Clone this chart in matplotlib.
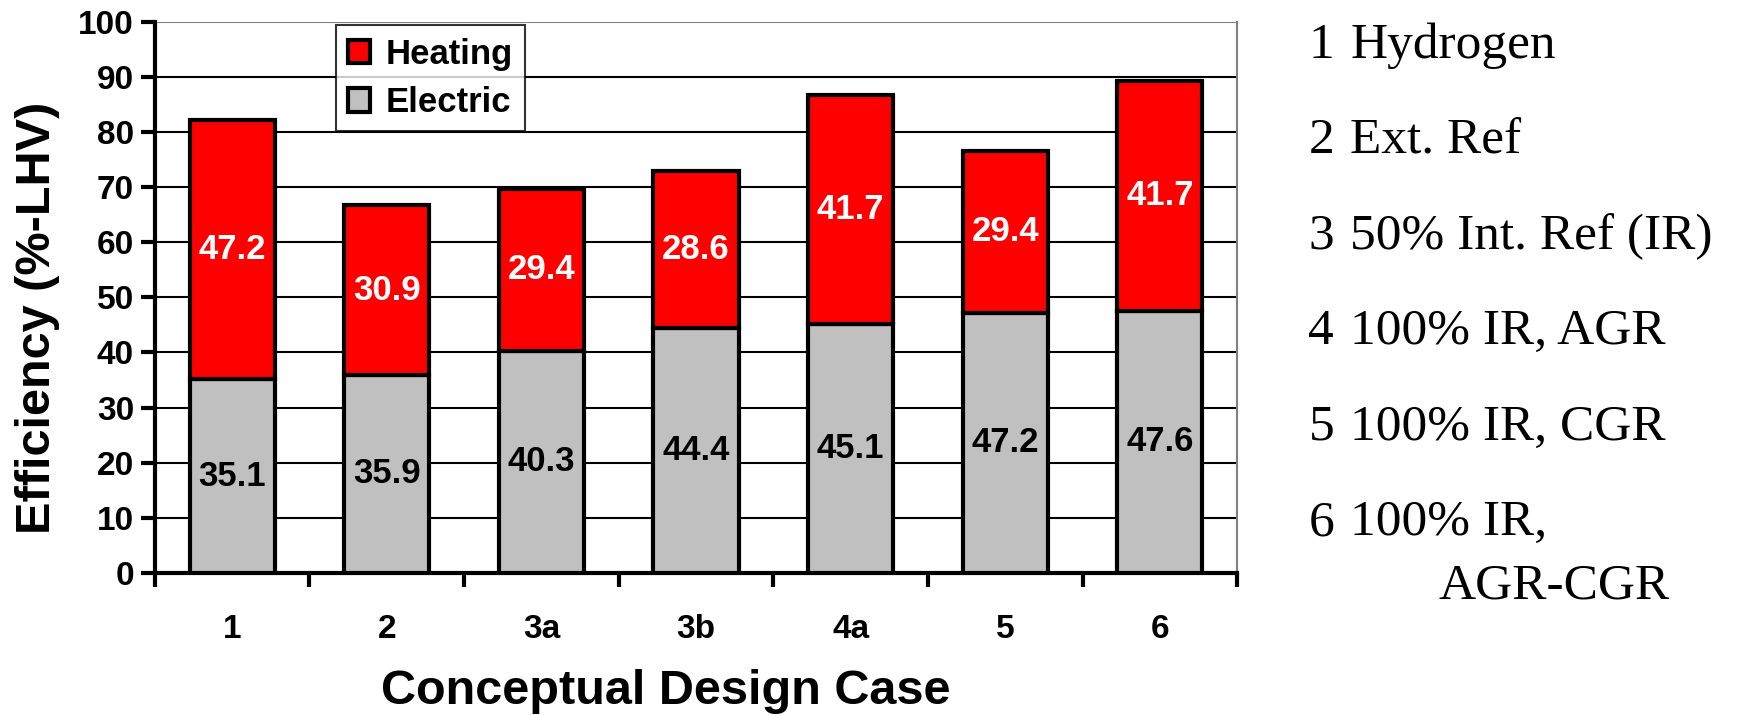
import matplotlib
matplotlib.use("Agg")
from matplotlib import pyplot as plt
import numpy as np

# design cases and stacked efficiencies (%-LHV)
cases = ["1", "2", "3a", "3b", "4a", "5", "6"]
electric = [35.1, 35.9, 40.3, 44.4, 45.1, 47.2, 47.6]
heating = [47.2, 30.9, 29.4, 28.6, 41.7, 29.4, 41.7]
note_nums = ["1", "2", "3", "4", "5", "6"]
note_text = ["Hydrogen", "Ext. Ref", "50% Int. Ref (IR)",
             "100% IR, AGR", "100% IR, CGR", "100% IR,"]
note_extra = "AGR-CGR"

plt.rcParams["font.family"] = ["Liberation Sans", "DejaVu Sans"]
plt.rcParams["font.weight"] = "bold"

fig = plt.figure(figsize=(17.4, 7.15), dpi=100)
ax = fig.add_axes([0.089, 0.199, 0.622, 0.770])

x = np.arange(len(cases))
w = 0.55
b1 = ax.bar(x, electric, w, color="#c0c0c0", edgecolor="black", linewidth=3,
            label="Electric", zorder=3)
b2 = ax.bar(x, heating, w, bottom=electric, color="#ff0000", edgecolor="black",
            linewidth=3, label="Heating", zorder=3)

for i in range(len(cases)):
    ax.text(x[i], electric[i] / 2, f"{electric[i]:.1f}", ha="center", va="center",
            fontsize=25, fontweight="bold", color="black", zorder=4)
    ax.text(x[i], electric[i] + heating[i] / 2, f"{heating[i]:.1f}", ha="center",
            va="center", fontsize=25, fontweight="bold", color="white", zorder=4)

ax.set_xlim(-0.5, len(cases) - 0.5)
ax.set_ylim(0, 100)
ax.set_yticks(np.arange(0, 101, 10))
ax.tick_params(axis="y", labelsize=24, width=3, length=10, direction="out", pad=5)
ax.set_xticks(np.arange(-0.5, len(cases), 1))
ax.set_xticklabels([])
ax.set_xticks(x, minor=True)
ax.set_xticklabels(cases, minor=True, fontsize=24, fontweight="bold")
ax.tick_params(axis="x", which="major", width=3, length=10, direction="out")
ax.tick_params(axis="x", which="minor", length=0, pad=30)

for yv in range(10, 100, 10):
    ax.axhline(yv, color="black", linewidth=1.5, zorder=1)
ax.axhline(100, color="#808080", linewidth=1.5, zorder=1)

ax.spines["left"].set_linewidth(3)
ax.spines["bottom"].set_linewidth(3)
ax.spines["top"].set_visible(False)
ax.spines["right"].set_color("#808080")
ax.spines["right"].set_linewidth(1.5)

ax.set_ylabel("Efficiency (%-LHV)", fontsize=35, fontweight="bold", labelpad=6)
ax.yaxis.set_label_coords(-0.088, 0.462)
ax.set_xlabel("Conceptual Design Case", fontsize=35, fontweight="bold")
ax.xaxis.set_label_coords(0.472, -0.175)

leg = ax.legend(handles=[b2, b1], loc="upper left", bbox_to_anchor=(0.167, 0.994),
                fontsize=25, frameon=True, fancybox=False, edgecolor="black",
                handlelength=0.65, handleheight=0.65, handletextpad=0.45,
                borderpad=0.35, labelspacing=0.45, borderaxespad=0)
leg.get_frame().set_linewidth(1.5)
leg.set_zorder(5)

# case descriptions on the right
y0 = 0.936
dy = 0.1335
for k in range(len(note_nums)):
    fig.text(0.752, y0 - k * dy, note_nums[k], family="Liberation Serif",
             fontweight="normal", fontsize=37, va="center")
    fig.text(0.776, y0 - k * dy, note_text[k], family="Liberation Serif",
             fontweight="normal", fontsize=37, va="center")
fig.text(0.827, y0 - 5 * dy - 0.088, note_extra, family="Liberation Serif",
         fontweight="normal", fontsize=37, va="center")

fig.savefig("out.png", dpi=100)
